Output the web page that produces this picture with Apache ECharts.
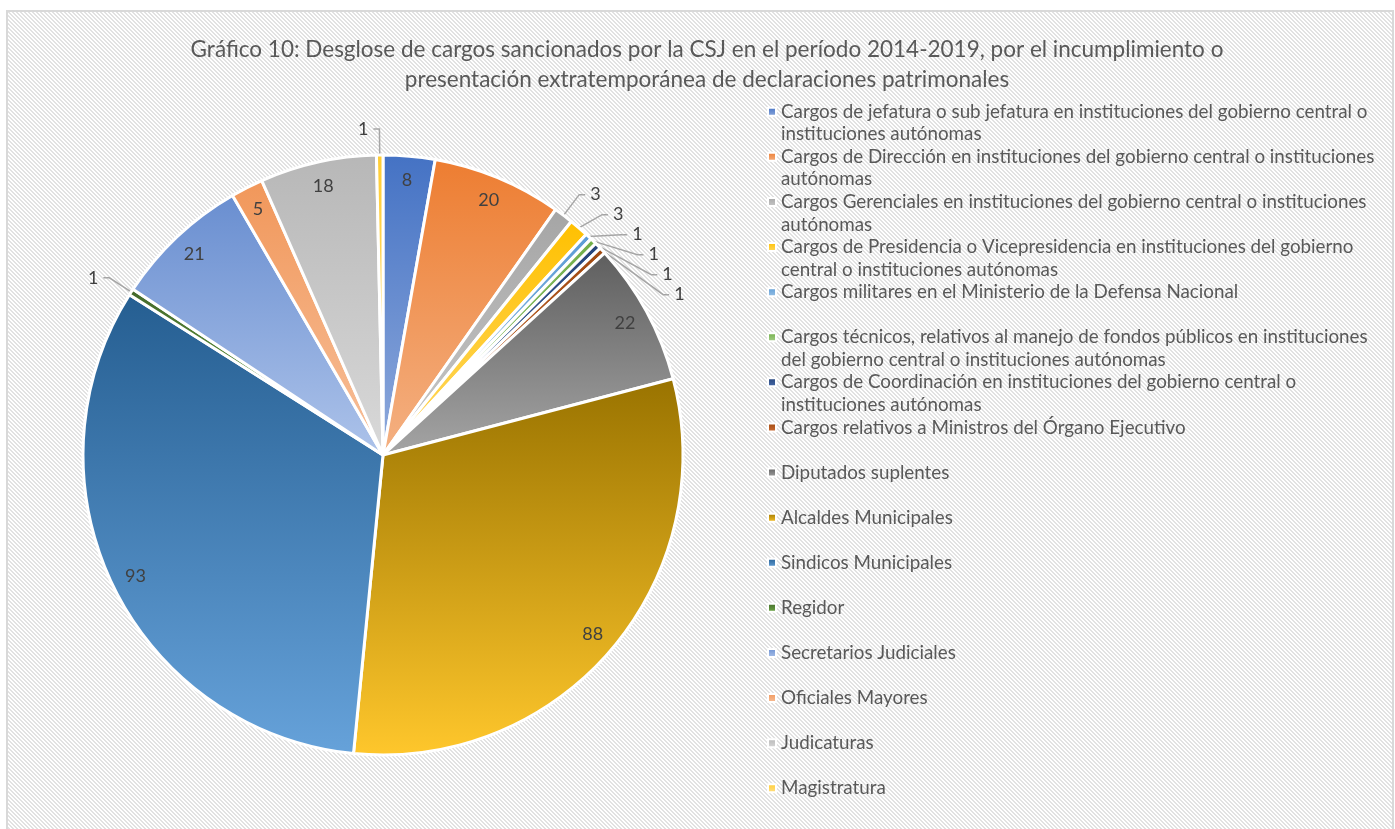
<!DOCTYPE html>
<html>
<head>
<meta charset="utf-8">
<script src="https://cdn.jsdelivr.net/npm/echarts@6/dist/echarts.min.js"></script>
<style>
  html, body { margin: 0; padding: 0; background: #fff; }
  #main { width: 1395px; height: 829px; }
</style>
</head>
<body>
<div id="main"></div>
<script>
// categorias (orden del gráfico, sentido horario desde arriba)
var categories = [
  'Cargos de jefatura o sub jefatura en instituciones del gobierno central o instituciones autónomas',
  'Cargos de Dirección en instituciones del gobierno central o instituciones autónomas',
  'Cargos Gerenciales en instituciones del gobierno central o instituciones autónomas',
  'Cargos de Presidencia o Vicepresidencia en instituciones del gobierno central o instituciones autónomas',
  'Cargos militares en el Ministerio de la Defensa Nacional',
  'Cargos técnicos, relativos al manejo de fondos públicos en instituciones del gobierno central o instituciones autónomas',
  'Cargos de Coordinación en instituciones del gobierno central o instituciones autónomas',
  'Cargos relativos a Ministros del Órgano Ejecutivo',
  'Diputados suplentes',
  'Alcaldes Municipales',
  'Sindicos Municipales',
  'Regidor',
  'Secretarios Judiciales',
  'Oficiales Mayores',
  'Judicaturas',
  'Magistratura'
]
var values = [8, 20, 3, 3, 1, 1, 1, 1, 22, 88, 93, 1, 21, 5, 18, 1]

// texto de la leyenda partido en dos lineas como en el original
var legendLines = [
  ['Cargos de jefatura o sub jefatura en instituciones del gobierno central o', 'instituciones autónomas'],
  ['Cargos de Dirección en instituciones del gobierno central o instituciones', 'autónomas'],
  ['Cargos Gerenciales en instituciones del gobierno central o instituciones', 'autónomas'],
  ['Cargos de Presidencia o Vicepresidencia en instituciones del gobierno', 'central o instituciones autónomas'],
  ['Cargos militares en el Ministerio de la Defensa Nacional', ''],
  ['Cargos técnicos, relativos al manejo de fondos públicos en instituciones', 'del gobierno central o instituciones autónomas'],
  ['Cargos de Coordinación en instituciones del gobierno central o', 'instituciones autónomas'],
  ['Cargos relativos a Ministros del Órgano Ejecutivo', ''],
  ['Diputados suplentes', ''],
  ['Alcaldes Municipales', ''],
  ['Sindicos Municipales', ''],
  ['Regidor', ''],
  ['Secretarios Judiciales', ''],
  ['Oficiales Mayores', ''],
  ['Judicaturas', ''],
  ['Magistratura', '']
]

// degradado: color arriba -> color abajo
var gradColors = [
  ['#4472C4', '#8FAADC'],
  ['#ED7D31', '#F4B183'],
  ['#A5A5A5', '#C9C9C9'],
  ['#FFC000', '#FFD966'],
  ['#5B9BD5', '#9DC3E6'],
  ['#70AD47', '#A9D18E'],
  ['#264478', '#4A6DAE'],
  ['#9E480E', '#D0703A'],
  ['#5E5E5E', '#A5A5A5'],
  ['#997300', '#FFC72C'],
  ['#255E91', '#66A2DA'],
  ['#43682B', '#70AD47'],
  ['#698ED0', '#ADC3EA'],
  ['#F1975A', '#F7C09B'],
  ['#B7B7B7', '#D9D9D9'],
  ['#FFCD33', '#FFE08A']
]

var smallLimit = 5 // los valores menores van con etiqueta externa

function grad(i) {
  return new echarts.graphic.LinearGradient(0, 0, 0, 1, [
    { offset: 0, color: gradColors[i][0] },
    { offset: 1, color: gradColors[i][1] }
  ])
}

// fondo rayado tipo Excel
function makePattern() {
  var c = document.createElement('canvas')
  c.width = 4
  c.height = 4
  var ctx = c.getContext('2d')
  ctx.fillStyle = '#ffffff'
  ctx.fillRect(0, 0, 4, 4)
  ctx.fillStyle = '#e2e2e2'
  for (var x = 0; x < 4; x++) {
    for (var y = 0; y < 4; y++) {
      if ((x - y + 8) % 4 < 2) ctx.fillRect(x, y, 1, 1)
    }
  }
  return c
}

var chartDom = document.getElementById('main')
var myChart = echarts.init(chartDom)
var option

var mainData = categories.map(function(name, i) {
  var small = values[i] < smallLimit
  return {
    name: name,
    value: values[i],
    itemStyle: { color: grad(i) },
    label: { show: small },
    labelLine: { show: small }
  }
})

var labelData = categories.map(function(name, i) {
  return {
    name: name,
    value: values[i],
    label: { show: values[i] >= smallLimit }
  }
})

var center = [383, 455]

option = {
  backgroundColor: '#fff',
  animation: false,
  graphic: [
    {
      type: 'rect',
      z: -10,
      shape: { x: 7, y: 11, width: 1386, height: 822 },
      style: {
        fill: { image: makePattern(), repeat: 'repeat' },
        stroke: '#d9d9d9',
        lineWidth: 2
      },
      silent: true
    }
  ],
  title: {
    text: 'Gráfico 10: Desglose de cargos sancionados por la CSJ en el período 2014-2019, por el incumplimiento o\npresentación extratemporánea de declaraciones patrimonales',
    left: 702,
    top: 30,
    textAlign: 'center',
    textStyle: {
      color: '#595959',
      fontWeight: 'normal',
      fontFamily: 'Lato',
      fontSize: 22.5,
      lineHeight: 30
    }
  },
  legend: {
    orient: 'vertical',
    left: 767,
    top: 78,
    height: 800,
    padding: 0,
    itemGap: -22.4,
    itemWidth: 8,
    itemHeight: 8,
    icon: 'rect',
    selectedMode: false,
    data: categories,
    formatter: function(name) {
      // primera linea vacia para que el icono quede a la altura de la primera linea de texto
      var l = legendLines[categories.indexOf(name)]
      return ' \n' + l[0] + '\n' + (l[1] || ' ')
    },
    textStyle: {
      color: '#595959',
      fontFamily: 'Lato',
      fontSize: 18.8,
      lineHeight: 22.5
    }
  },
  series: [
    {
      name: 'Cargos',
      type: 'pie',
      center: center,
      radius: [0, 300],
      startAngle: 90,
      silent: true,
      itemStyle: {
        borderColor: '#fff',
        borderWidth: 3
      },
      label: {
        position: 'outside',
        color: '#404040',
        fontFamily: 'Lato',
        fontSize: 18,
        formatter: '{c}'
      },
      labelLine: {
        length: 26,
        length2: 6,
        lineStyle: { color: '#a6a6a6', width: 1.5 }
      },
      data: mainData
    },
    {
      // solo para colocar las etiquetas cerca del borde
      name: 'Etiquetas',
      type: 'pie',
      center: center,
      radius: [245, 300],
      startAngle: 90,
      silent: true,
      avoidLabelOverlap: false,
      itemStyle: { color: 'rgba(0,0,0,0)', borderWidth: 0 },
      label: {
        position: 'inside',
        color: '#404040',
        fontFamily: 'Lato',
        fontSize: 18,
        formatter: '{c}'
      },
      labelLine: { show: false },
      data: labelData
    }
  ]
}

option && myChart.setOption(option)
</script>
</body>
</html>
